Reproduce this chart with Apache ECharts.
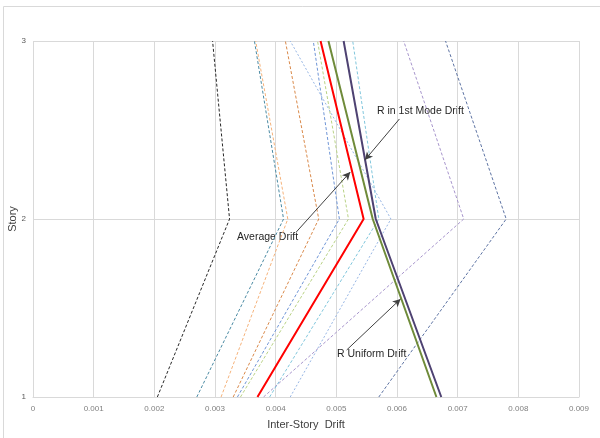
<!DOCTYPE html>
<html><head><meta charset="utf-8">
<script src="https://cdn.jsdelivr.net/npm/echarts@6/dist/echarts.min.js"></script>
<style>html,body{margin:0;padding:0;background:#fff}#c{width:600px;height:438px}</style>
</head><body><div id="c"></div>
<script>
const stories = [1, 2, 3];
const xTicks = [0, 0.001, 0.002, 0.003, 0.004, 0.005, 0.006, 0.007, 0.008, 0.009];
const yTicks = [1, 2, 3];

// inter-story drift per story (story 1, 2, 3)
const gm1 = [0.00205, 0.00324, 0.00296];
const gm2 = [0.00270, 0.00413, 0.00365];
const gm3 = [0.00310, 0.00420, 0.00367];
const gm4 = [0.00330, 0.00471, 0.00416];
const gm5 = [0.00337, 0.00505, 0.00462];
const gm6 = [0.00342, 0.00520, 0.00469];
const gm7 = [0.00380, 0.00710, 0.00611];
const gm8 = [0.00390, 0.00570, 0.00527];
const gm9 = [0.00424, 0.00590, 0.00424];
const gm10 = [0.00570, 0.00780, 0.00680];
const averageDrift = [0.00370, 0.00545, 0.00474];
const rUniformDrift = [0.00665, 0.00560, 0.00487];
const r1stModeDrift = [0.00673, 0.00565, 0.00512];

const annotations = [
  {text: 'R in 1st Mode Drift', from: [0.00604, 2.562], to: [0.00547, 2.331]},
  {text: 'Average Drift', from: [0.00434, 1.927], to: [0.00523, 2.264]},
  {text: 'R Uniform Drift', from: [0.00517, 1.264], to: [0.00606, 1.551]}
];

function pts(arr){ return arr.map((v,i)=>[v, stories[i]]); }

const dashedDefs = [
  [gm1, '#262626', [3,2]],
  [gm2, '#4a8aa3', [3,2]],
  [gm3, '#f5b27a', [3,2]],
  [gm4, '#d9894a', [3,2]],
  [gm5, '#6f95d6', [3,2]],
  [gm6, '#b9d286', [3,2]],
  [gm7, '#a795cc', [3,2]],
  [gm8, '#80c6dc', [3,2]],
  [gm9, '#97b6e4', [2,2]],
  [gm10, '#5d73a3', [3,2]]
];
const series = dashedDefs.map(d => ({
  type: 'line', data: pts(d[0]), symbol: 'none', silent: true,
  lineStyle: {color: d[1], width: 1, type: d[2]}
}));
series.push({type:'line', data: pts(averageDrift), symbol:'none', lineStyle:{color:'#ff0000', width:2}});
series.push({type:'line', data: pts(rUniformDrift), symbol:'none', lineStyle:{color:'#6f8b3a', width:2}});
series.push({type:'line', data: pts(r1stModeDrift), symbol:'none', lineStyle:{color:'#4e4272', width:2}});
series.push({
  type:'line', data: [], symbol:'none',
  markLine: {
    silent: true, symbol: ['none','arrow'], symbolSize: [6,8], animation:false,
    lineStyle: {color:'#404040', width:1, type:'solid'},
    label: {show:false},
    data: annotations.map(a => [{coord: a.from}, {coord: a.to}])
  }
});

const chart = echarts.init(document.getElementById('c'), null, {renderer:'canvas'});
chart.setOption({
  animation: false,
  grid: {left: 33, right: 21, top: 41, bottom: 41, containLabel: false, outerBoundsMode: 'none'},
  xAxis: {
    type:'value', min: xTicks[0], max: xTicks[xTicks.length-1], interval: 0.001,
    name: 'Inter-Story  Drift', nameLocation:'middle', nameGap: 22,
    nameTextStyle: {fontFamily:'Liberation Sans', fontSize:11, color:'#404040'},
    axisLine: {show:true, lineStyle:{color:'#d9d9d9'}},
    axisTick: {show:false},
    splitLine: {show:true, lineStyle:{color:'#d9d9d9'}},
    axisLabel: {fontFamily:'Liberation Sans', fontSize:8, color:'#808080', margin:8,
      formatter: v => { const t = xTicks.find(x => Math.abs(x - v) < 1e-9); return t === 0 ? '0' : String(t); }}
  },
  yAxis: {
    type:'value', min: yTicks[0], max: yTicks[yTicks.length-1], interval: 1,
    name: 'Story', nameLocation:'middle', nameGap: 15, nameRotate: 90, nameMoveOverlap: false,
    nameTextStyle: {fontFamily:'Liberation Sans', fontSize:11, color:'#404040'},
    axisLine: {show:false}, axisTick:{show:false},
    splitLine: {show:true, lineStyle:{color:'#d9d9d9'}},
    axisLabel: {fontFamily:'Liberation Sans', fontSize:8, color:'#595959', margin:7}
  },
  graphic: [
    {type:'rect', shape:{x:3.5, y:6.5, width:700, height:600}, style:{fill:'none', stroke:'#d9d9d9', lineWidth:1}, silent:true, z:-1},
    {type:'text', left: 377, top: 106, style:{text: annotations[0].text, font:'10.5px "Liberation Sans"', fill:'#262626'}},
    {type:'text', left: 237, top: 232, style:{text: annotations[1].text, font:'10.5px "Liberation Sans"', fill:'#262626'}},
    {type:'text', left: 337, top: 349, style:{text: annotations[2].text, font:'10.5px "Liberation Sans"', fill:'#262626'}}
  ],
  series: series
});
</script></body></html>
